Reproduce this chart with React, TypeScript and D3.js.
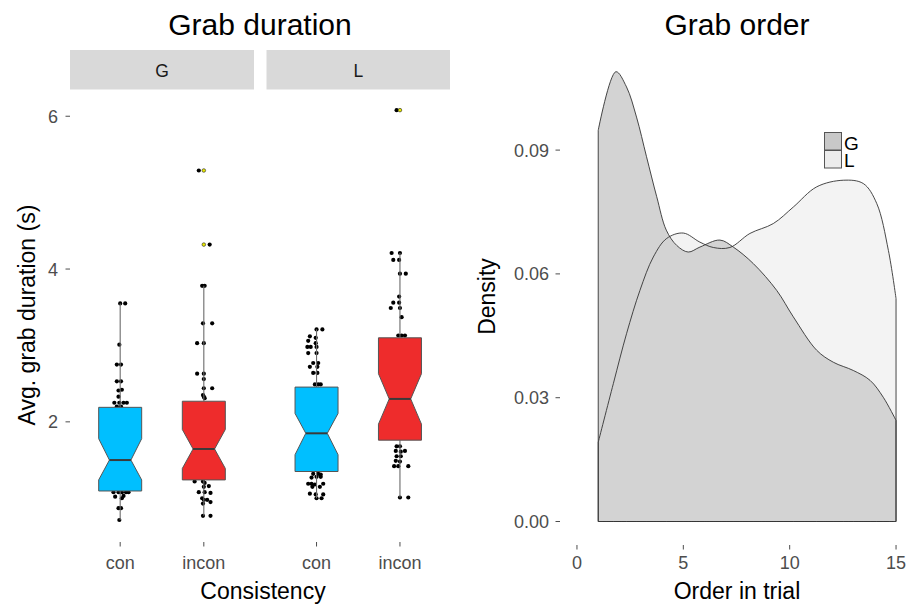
import * as d3 from "d3";
import { useEffect, useRef } from "react";

// facets and categories
const facets = ["G", "L"];
const consistency = ["con", "incon"];

// box stats: [lower whisker, Q1, notch low, median, notch high, Q3, upper whisker]
const boxG_con = [0.715, 1.095, 1.24, 1.5, 1.78, 2.19, 3.55];
const boxG_incon = [0.77, 1.24, 1.39, 1.645, 1.9, 2.27, 3.78];
const boxL_con = [1.0, 1.35, 1.57, 1.85, 2.11, 2.455, 3.21];
const boxL_incon = [1.01, 1.76, 1.97, 2.3, 2.63, 3.1, 4.21];

// outliers per group
const outG_con: number[] = [];
const outG_incon = [5.29, 4.32];
const outL_con: number[] = [];
const outL_incon = [6.08];

// jittered raw points: [value, jitter in category units]
const ptsG_con = [
  [3.55, 0], [3.55, 0.06], [3.01, -0.01], [2.75, -0.04], [2.75, 0.01],
  [2.53, -0.04], [2.53, 0.01], [2.41, -0.02], [2.42, 0.02], [2.33, -0.02],
  [2.25, -0.07], [2.25, -0.01], [2.25, 0.04], [2.25, 0.08], [2.2, -0.04], [2.2, 0.01],
  [1.08, -0.08], [1.08, -0.02], [1.08, 0.02], [1.08, 0.07], [1.08, 0.1],
  [1.02, -0.06], [1.03, 0.04], [1.0, 0.02], [0.87, -0.02], [0.87, 0.01], [0.715, -0.01],
];
const ptsG_incon = [
  [3.78, -0.02], [3.78, 0.01], [3.29, -0.01], [3.29, 0.1], [3.03, -0.08], [3.03, 0],
  [2.63, -0.08], [2.63, 0], [2.56, 0], [2.44, 0], [2.44, 0.1],
  [2.35, -0.01], [2.33, 0], [2.31, 0.01],
  [1.22, -0.11], [1.22, -0.01], [1.2, 0.01], [1.15, 0], [1.16, 0.06],
  [1.08, -0.06], [1.08, 0.01], [1.07, 0.08], [1.0, -0.02], [0.98, 0], [0.98, 0.04],
  [0.95, 0.08], [0.93, -0.01], [0.77, -0.01], [0.77, 0.08], [5.29, -0.06], [4.32, 0.07],
];
const ptsL_con = [
  [3.21, 0], [3.21, 0.07], [3.12, -0.08], [3.1, -0.01], [3.06, -0.1], [3.03, -0.01],
  [2.98, -0.11], [2.98, -0.07], [2.98, 0], [2.9, -0.1], [2.9, 0],
  [2.77, -0.04], [2.77, 0.02], [2.72, -0.08], [2.72, 0.01], [2.64, -0.04], [2.64, 0.01],
  [2.49, -0.02], [2.49, 0.02], [2.49, 0.05],
  [1.32, -0.04], [1.32, 0.02], [1.31, 0.05], [1.28, 0], [1.28, 0.05], [1.27, -0.06],
  [1.19, -0.1], [1.19, -0.06], [1.18, -0.02], [1.19, 0.08], [1.15, -0.05], [1.15, 0.04],
  [1.06, -0.08], [1.05, -0.01], [1.05, 0.08], [1.0, 0], [1.0, 0.06],
];
const ptsL_incon = [
  [4.21, -0.1], [4.21, 0], [4.12, -0.08], [4.12, -0.01], [3.94, 0], [3.94, 0.07],
  [3.64, -0.01], [3.56, -0.08], [3.56, -0.01], [3.49, -0.11], [3.49, 0], [3.37, 0.02],
  [3.13, -0.02], [3.13, 0.02], [3.13, 0.06],
  [1.68, -0.04], [1.68, 0], [1.62, -0.05], [1.61, 0.01], [1.62, 0.06],
  [1.55, -0.04], [1.55, 0.01], [1.49, -0.05], [1.48, 0], [1.42, -0.07], [1.42, -0.02],
  [1.42, 0.1], [1.01, 0], [1.01, 0.1], [6.08, -0.04],
];

const durTicks = [2, 4, 6];

// density of grab order
const gOrder = [1, 1.83, 2.33, 2.8, 3.27, 3.75, 4.2, 4.69, 5.23, 5.78, 6.72, 7.35, 8.29, 9.39, 10.17, 11.27, 12.05, 12.99, 13.78, 14.4, 15];
const gDensity = [0.0948, 0.109, 0.1053, 0.098, 0.0884, 0.0787, 0.0706, 0.0669, 0.0653, 0.0665, 0.0682, 0.0665, 0.0625, 0.056, 0.0496, 0.0415, 0.0386, 0.0366, 0.0342, 0.0301, 0.0245];
const lOrder = [1, 1.71, 2.33, 2.96, 3.59, 4.22, 5.0, 5.78, 6.41, 7.19, 8.13, 9.23, 10.17, 11.27, 12.52, 13.46, 14.09, 14.64, 15];
const lDensity = [0.0192, 0.0334, 0.0455, 0.056, 0.0641, 0.0686, 0.0699, 0.0677, 0.0664, 0.0664, 0.0698, 0.0722, 0.0762, 0.0811, 0.0827, 0.0819, 0.0771, 0.0657, 0.054];
const orderTicks = [0, 5, 10, 15];
const densTicks = [0, 0.03, 0.06, 0.09];

const FONT = "Liberation Sans, Arial, sans-serif";

export default function App() {
  const ref = useRef<SVGSVGElement>(null);

  useEffect(() => {
    const svg = d3.select(ref.current);
    svg.selectAll("*").remove();

    const boxes: Record<string, number[]> = {
      "G-con": boxG_con, "G-incon": boxG_incon, "L-con": boxL_con, "L-incon": boxL_incon,
    };
    const outs: Record<string, number[]> = {
      "G-con": outG_con, "G-incon": outG_incon, "L-con": outL_con, "L-incon": outL_incon,
    };
    const pts: Record<string, number[][]> = {
      "G-con": ptsG_con, "G-incon": ptsG_incon, "L-con": ptsL_con, "L-incon": ptsL_incon,
    };
    const fillC: Record<string, string> = { con: "#00bfff", incon: "#ee2c2c" };

    // ---------- left: grab duration ----------
    const panelTop = 89.5, panelBottom = 540.5;
    const y = d3.scaleLinear().domain([0.447, 6.35]).range([panelBottom, panelTop]);
    const facetX = d3.scaleOrdinal<string, number[]>().domain(facets).range([[70, 254], [266.5, 450]]);

    svg.append("text").attr("x", 260).attr("y", 35).attr("text-anchor", "middle")
      .attr("font-size", 30).attr("fill", "#000").text("Grab duration");

    facets.forEach((f) => {
      const [x0, x1] = facetX(f);
      const x = d3.scalePoint().domain(consistency).range([x0, x1]).padding(0.6);
      const step = x.step();

      const strip = svg.append("g");
      strip.append("rect").attr("x", x0).attr("y", 50).attr("width", x1 - x0).attr("height", 39.5).attr("fill", "#d9d9d9");
      strip.append("text").attr("x", (x0 + x1) / 2).attr("y", 77).attr("text-anchor", "middle")
        .attr("font-size", 17.5).attr("fill", "#1a1a1a").text(f);

      const g = svg.append("g");
      consistency.forEach((c) => {
        const key = `${f}-${c}`;
        const cx = x(c)!;
        const [lw, q1, nl, med, nh, q3, uw] = boxes[key];
        const hw = 21.5, nw = hw / 2;

        // jittered points underneath
        g.selectAll(null).data(pts[key]).enter().append("circle")
          .attr("cx", (d) => cx + d[1] * step).attr("cy", (d) => y(d[0]))
          .attr("r", 2.1).attr("fill", "#000");

        // whiskers
        g.append("line").attr("x1", cx).attr("x2", cx).attr("y1", y(uw)).attr("y2", y(q3))
          .attr("stroke", "#6b6b6b").attr("stroke-width", 1.1);
        g.append("line").attr("x1", cx).attr("x2", cx).attr("y1", y(q1)).attr("y2", y(lw))
          .attr("stroke", "#6b6b6b").attr("stroke-width", 1.1);

        // notched box
        const poly: [number, number][] = [
          [cx - hw, y(q3)], [cx + hw, y(q3)], [cx + hw, y(nh)], [cx + nw, y(med)],
          [cx + hw, y(nl)], [cx + hw, y(q1)], [cx - hw, y(q1)], [cx - hw, y(nl)],
          [cx - nw, y(med)], [cx - hw, y(nh)],
        ];
        g.append("path").attr("d", "M" + poly.map((p) => p.join(",")).join("L") + "Z")
          .attr("fill", fillC[c]).attr("stroke", "#555").attr("stroke-width", 1);
        g.append("line").attr("x1", cx - nw).attr("x2", cx + nw).attr("y1", y(med)).attr("y2", y(med))
          .attr("stroke", "#3a3a3a").attr("stroke-width", 2);

        // outliers
        g.selectAll(null).data(outs[key]).enter().append("circle")
          .attr("cx", cx).attr("cy", (d) => y(d)).attr("r", 1.8)
          .attr("fill", "#e8e800").attr("stroke", "#222").attr("stroke-width", 0.6);

        // x tick + label
        g.append("line").attr("x1", cx).attr("x2", cx).attr("y1", panelBottom + 1.5).attr("y2", panelBottom + 6)
          .attr("stroke", "#4d4d4d");
        g.append("text").attr("x", cx).attr("y", 569).attr("text-anchor", "middle")
          .attr("font-size", 18).attr("fill", "#4d4d4d").text(c);
      });
    });

    const yAxisL = svg.append("g");
    durTicks.forEach((t) => {
      yAxisL.append("line").attr("x1", 65.5).attr("x2", 70).attr("y1", y(t)).attr("y2", y(t)).attr("stroke", "#4d4d4d");
      yAxisL.append("text").attr("x", 58).attr("y", y(t)).attr("dy", "0.36em").attr("text-anchor", "end")
        .attr("font-size", 18).attr("fill", "#4d4d4d").text(t);
    });
    svg.append("text").attr("transform", `translate(35,${(panelTop + panelBottom) / 2}) rotate(-90)`)
      .attr("text-anchor", "middle").attr("font-size", 23).attr("fill", "#000").text("Avg. grab duration (s)");
    svg.append("text").attr("x", 263).attr("y", 599).attr("text-anchor", "middle")
      .attr("font-size", 23).attr("fill", "#000").text("Consistency");

    // ---------- right: grab order ----------
    const rTop = 49, rBottom = 544;
    const xr = d3.scaleLinear().domain([-0.75, 15.75]).range([561, 912]);
    const yr = d3.scaleLinear().domain([-0.00545, 0.1145]).range([rBottom, rTop]);

    svg.append("text").attr("x", 737).attr("y", 35).attr("text-anchor", "middle")
      .attr("font-size", 30).attr("fill", "#000").text("Grab order");

    const area = d3.area<[number, number]>()
      .x((d) => xr(d[0])).y0(yr(0)).y1((d) => yr(d[1])).curve(d3.curveCatmullRom.alpha(0.5));
    const gData = gOrder.map((o, i) => [o, gDensity[i]] as [number, number]);
    const lData = lOrder.map((o, i) => [o, lDensity[i]] as [number, number]);

    svg.append("path").attr("d", area(lData)).attr("fill", "#f3f3f3");
    svg.append("path").attr("d", area(gData)).attr("fill", "#d3d3d3");
    svg.append("path").attr("d", area(gData)).attr("fill", "none").attr("stroke", "#333").attr("stroke-width", 0.9);
    svg.append("path").attr("d", area(lData)).attr("fill", "none").attr("stroke", "#333").attr("stroke-width", 0.9);

    const xAxisR = svg.append("g");
    orderTicks.forEach((t) => {
      xAxisR.append("line").attr("x1", xr(t)).attr("x2", xr(t)).attr("y1", rBottom + 1).attr("y2", rBottom + 5.5).attr("stroke", "#4d4d4d");
      xAxisR.append("text").attr("x", xr(t)).attr("y", 569).attr("text-anchor", "middle")
        .attr("font-size", 18).attr("fill", "#4d4d4d").text(t);
    });
    const yAxisR = svg.append("g");
    densTicks.forEach((t) => {
      yAxisR.append("line").attr("x1", 555.5).attr("x2", 560).attr("y1", yr(t)).attr("y2", yr(t)).attr("stroke", "#4d4d4d");
      yAxisR.append("text").attr("x", 549).attr("y", yr(t)).attr("dy", "0.36em").attr("text-anchor", "end")
        .attr("font-size", 18).attr("fill", "#4d4d4d").text(d3.format(".2f")(t));
    });
    svg.append("text").attr("transform", `translate(495,${(rTop + rBottom) / 2}) rotate(-90)`)
      .attr("text-anchor", "middle").attr("font-size", 23).attr("fill", "#000").text("Density");
    svg.append("text").attr("x", 737).attr("y", 599).attr("text-anchor", "middle")
      .attr("font-size", 23).attr("fill", "#000").text("Order in trial");

    // legend
    const legend = svg.append("g");
    const legendItems = [["G", "#c8c8c8"], ["L", "#ececec"]];
    legendItems.forEach(([lab, col], i) => {
      legend.append("rect").attr("x", 824.5).attr("y", 132.5 + i * 18).attr("width", 17).attr("height", 17.5)
        .attr("fill", col).attr("stroke", "#555").attr("stroke-width", 1);
      legend.append("text").attr("x", 844).attr("y", 150 + i * 16.5).attr("font-size", 19).attr("fill", "#000").text(lab);
    });
  }, []);

  return (
    <svg ref={ref} width={909} height={606}
      style={{ position: "absolute", left: 0, top: 0, background: "#fff", fontFamily: FONT }} />
  );
}
